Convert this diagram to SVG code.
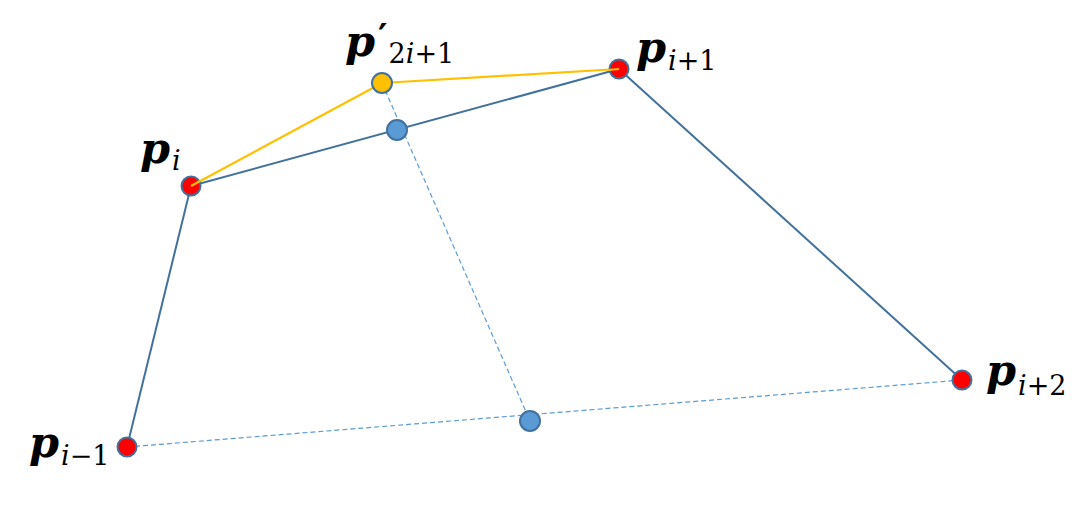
<svg xmlns="http://www.w3.org/2000/svg" width="1090" height="516" viewBox="0 0 1090 516">
<style>
.solid{stroke:#41719C;stroke-width:2;fill:none}
.yel{stroke:#FFC000;stroke-width:2.2;fill:none}
.dash{stroke:#5B9BD5;stroke-width:1.2;stroke-dasharray:5 3;fill:none}
.red{fill:#FF0000;stroke:#41719C;stroke-width:2}
.blu{fill:#5B9BD5;stroke:#41719C;stroke-width:2}
.ylw{fill:#FFC000;stroke:#41719C;stroke-width:2}
.p{font-family:"DejaVu Serif","Liberation Serif",serif;font-weight:bold;font-style:italic;font-size:43px;fill:#000}
.sub{font-family:"DejaVu Serif","Liberation Serif",serif;font-size:27px;fill:#000}
.pr{font-family:"DejaVu Serif","Liberation Serif",serif;font-weight:bold;font-size:36px;fill:#000}
.it{font-style:italic}
</style>
<rect width="1090" height="516" fill="#fff"/>
<g id="connectors">
<line class="dash" x1="127" y1="447" x2="962" y2="380"/>
<line class="dash" x1="382" y1="83" x2="530" y2="421"/>
<line class="solid" x1="127" y1="447" x2="191" y2="186"/>
<line class="solid" x1="191" y1="186" x2="619" y2="69"/>
<line class="solid" x1="619" y1="69" x2="962" y2="380"/>
<line class="yel" x1="191" y1="186" x2="382" y2="83"/>
<line class="yel" x1="382" y1="83" x2="619" y2="69"/>
</g>
<g id="mid_top"><circle class="blu" cx="397" cy="130" r="10"/></g>
<g id="mid_bottom"><circle class="blu" cx="530" cy="421" r="10"/></g>
<g id="p_new"><circle class="ylw" cx="382" cy="83" r="10"/>
<text x="345" y="56"><tspan class="p">p</tspan><tspan class="pr" dx="3" dy="-7">′</tspan><tspan class="sub" dx="1" dy="14">2<tspan class="it">i</tspan>+1</tspan></text></g>
<g id="p_i"><circle class="red" cx="191" cy="186" r="9.5"/>
<text x="140" y="163"><tspan class="p">p</tspan><tspan class="sub it" dx="2" dy="7">i</tspan></text>
<line class="yel" x1="191" y1="186" x2="200" y2="181"/></g>
<g id="p_i1"><circle class="red" cx="619" cy="69" r="9.5"/>
<line class="yel" x1="608" y1="70" x2="619" y2="69"/>
<text x="636" y="62"><tspan class="p">p</tspan><tspan class="sub" dx="2" dy="8"><tspan class="it">i</tspan>+1</tspan></text></g>
<g id="p_i2"><circle class="red" cx="962" cy="380" r="9.5"/>
<text x="986" y="385"><tspan class="p">p</tspan><tspan class="sub" dx="2" dy="10"><tspan class="it">i</tspan>+2</tspan></text></g>
<g id="p_im1"><circle class="red" cx="127" cy="447" r="9.5"/>
<text x="29" y="457"><tspan class="p">p</tspan><tspan class="sub" dx="2" dy="8"><tspan class="it">i</tspan>−1</tspan></text></g>
</svg>
